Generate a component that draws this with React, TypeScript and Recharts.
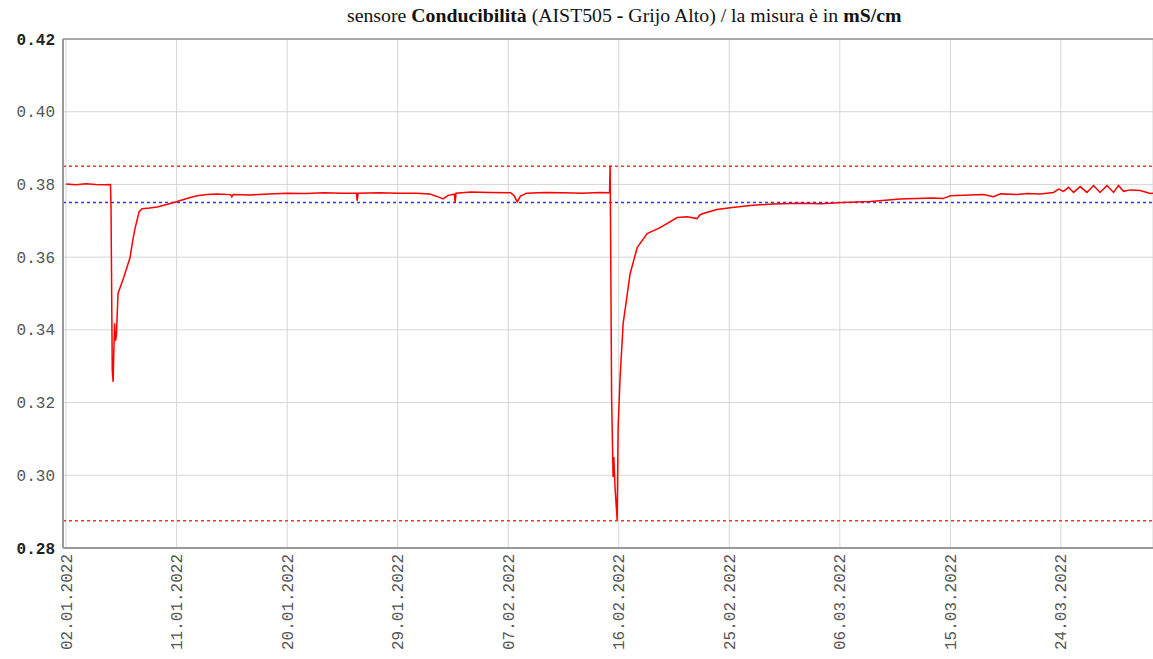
import { LineChart, Line, XAxis, YAxis, CartesianGrid, ReferenceLine } from "recharts";

// days since 02.01.2022 00:00
const dayOffsets = [
  0, 0.8, 1.6, 2.4, 3.2, 3.62, 3.66, 3.76, 3.83, 3.88, 3.95, 4.02, 4.1, 4.23, 4.7,
  5.21, 5.45, 5.62, 5.95, 6.19, 6.8, 7.41, 8.2, 9.04, 9.9, 10.67, 11.5, 12.3, 13.4,
  13.5, 13.6, 14.98, 16.5, 18.0, 19.5, 21.0, 22.5, 23.65, 23.7, 23.78, 25.5, 27.0,
  28.5, 29.6, 30.2, 30.7, 31.1, 31.62, 31.68, 31.75, 33.0, 34.5, 36.2, 36.5, 36.73,
  37.0, 37.5, 39.0, 40.5, 42.0, 43.5, 44.25, 44.3, 44.34, 44.42, 44.54, 44.6, 44.7,
  44.87, 44.95, 45.11, 45.36, 45.93, 46.5, 47.31, 48.37, 49.76, 50.57, 51.38, 51.6,
  51.87, 53.0, 54.07, 55.7, 57.5, 59.8, 61.5, 63.2, 65.5, 67.9, 70.6, 71.4, 72.0,
  74.7, 75.5, 76.1, 77.4, 78.3, 79.3, 80.4, 80.81, 81.21, 81.62, 82.03, 82.57, 83.12,
  83.66, 84.2, 84.75, 85.29, 85.69, 86.1, 86.64, 87.46, 88.27, 88.5,
];

// mS/cm
const conductivity = [
  0.3801, 0.3799, 0.3802, 0.38, 0.3799, 0.38, 0.3737, 0.329, 0.3257, 0.333, 0.3418,
  0.337, 0.3385, 0.35, 0.3545, 0.3599, 0.365, 0.368, 0.3725, 0.3733, 0.3735, 0.3738,
  0.3745, 0.3753, 0.3762, 0.3769, 0.3772, 0.3774, 0.3772, 0.3766, 0.3772, 0.3771,
  0.3774, 0.3776, 0.3775, 0.3777, 0.3776, 0.3776, 0.3755, 0.3776, 0.3777, 0.3776,
  0.3776, 0.3774, 0.3767, 0.376, 0.377, 0.3773, 0.375, 0.3776, 0.3779, 0.3778,
  0.3777, 0.3768, 0.3752, 0.3768, 0.3776, 0.3778, 0.3777, 0.3776, 0.3778, 0.3777,
  0.3852, 0.3645, 0.3212, 0.2995, 0.305, 0.2965, 0.2877, 0.3132, 0.327, 0.3418,
  0.3555, 0.3626, 0.3665, 0.3681, 0.3709, 0.3711, 0.3706, 0.3716, 0.372, 0.3731,
  0.3736, 0.3742, 0.3746, 0.3748, 0.3747, 0.375, 0.3753, 0.376, 0.3763, 0.3761,
  0.3769, 0.3772, 0.3766, 0.3774, 0.3772, 0.3775, 0.3774, 0.3778, 0.3787, 0.3781,
  0.3792, 0.3778, 0.3794, 0.3778, 0.3797, 0.3778, 0.3797, 0.3778, 0.3797, 0.3781,
  0.3785, 0.3783, 0.3775, 0.3776,
];

const dateTicks = [0, 9, 18, 27, 36, 45, 54, 63, 72, 81];
const dateLabels = [
  "02.01.2022", "11.01.2022", "20.01.2022", "29.01.2022", "07.02.2022",
  "16.02.2022", "25.02.2022", "06.03.2022", "15.03.2022", "24.03.2022",
];
const valueTicks = [0.28, 0.3, 0.32, 0.34, 0.36, 0.38, 0.4, 0.42];

const upperLimit = 0.385;
const lowerLimit = 0.2875;
const referenceLevel = 0.375;

const chartData = dayOffsets.map((d, i) => ({ d, v: conductivity[i] }));

const mono = "'Liberation Mono', 'DejaVu Sans Mono', monospace";

const DateTick = ({ x, y, payload }: any) => {
  const i = dateTicks.indexOf(payload.value);
  return (
    <text
      transform={`translate(${x},${y}) rotate(-90)`}
      textAnchor="end"
      dy="0.35em"
      fontFamily={mono}
      fontSize={16}
      fill="#555"
    >
      {dateLabels[i]}
    </text>
  );
};

const ValueTick = ({ x, y, payload }: any) => {
  const v = payload.value;
  const edge = v === 0.28 || v === 0.42;
  return (
    <text
      x={x}
      y={y}
      textAnchor="end"
      dy="0.35em"
      fontFamily={mono}
      fontSize={16}
      fontWeight={edge ? "bold" : "normal"}
      fill={edge ? "#222" : "#555"}
    >
      {v.toFixed(2)}
    </text>
  );
};

export default function App() {
  return (
    <div style={{ position: "absolute", left: 0, top: 0, width: 1153, height: 659, background: "#fff" }}>
      <div
        style={{
          position: "absolute",
          left: 347,
          top: 4,
          fontFamily: "'Liberation Serif', 'Times New Roman', serif",
          fontSize: 19.8,
          color: "#111",
          whiteSpace: "nowrap",
        }}
      >
        sensore <b>Conducibilità</b> (AIST505 <b>-</b> Grijo Alto) / la misura è in <b>mS/cm</b>
      </div>
      <LineChart
        width={1153}
        height={659}
        data={chartData}
        margin={{ top: 39, right: 0, left: 0, bottom: 0 }}
      >
        <CartesianGrid stroke="#d6d6d6" />
        <XAxis
          dataKey="d"
          type="number"
          domain={[-0.25, 88.5]}
          ticks={dateTicks}
          allowDataOverflow
          height={111}
          tickSize={0}
          tickMargin={6}
          tick={<DateTick />}
          axisLine={{ stroke: "#999", strokeWidth: 2 }}
        />
        <YAxis
          type="number"
          domain={[0.28, 0.42]}
          ticks={valueTicks}
          allowDataOverflow
          width={63}
          tickSize={0}
          tickMargin={8}
          tick={<ValueTick />}
          axisLine={{ stroke: "#999", strokeWidth: 2 }}
        />
        <ReferenceLine y={0.42} stroke="#aaa" strokeWidth={2} />
        <ReferenceLine y={upperLimit} stroke="#ff3030" strokeWidth={1.5} strokeDasharray="3 3" />
        <ReferenceLine y={lowerLimit} stroke="#ff3030" strokeWidth={1.5} strokeDasharray="3 3" />
        <ReferenceLine y={referenceLevel} stroke="#3030ff" strokeWidth={1.5} strokeDasharray="3 3" />
        <Line
          type="linear"
          dataKey="v"
          stroke="#ff0000"
          strokeWidth={1.5}
          dot={false}
          activeDot={false}
          isAnimationActive={false}
        />
      </LineChart>
    </div>
  );
}
